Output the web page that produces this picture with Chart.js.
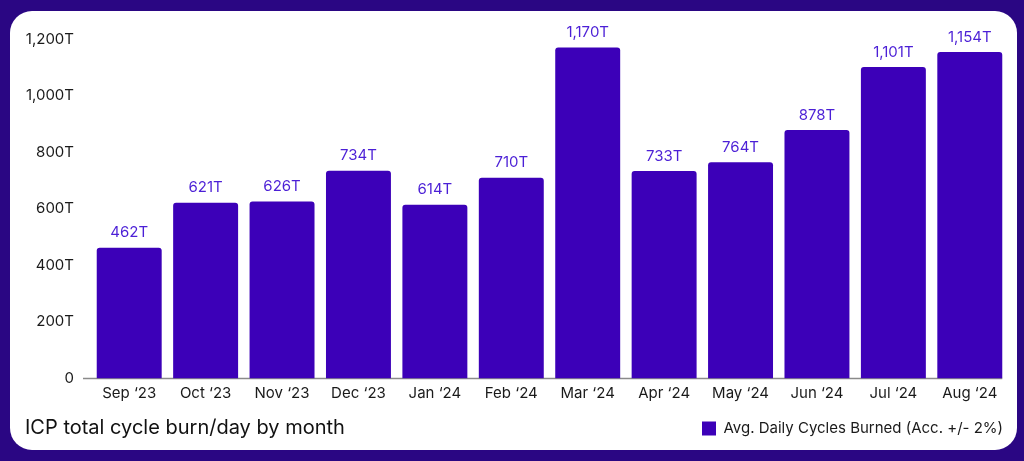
<!DOCTYPE html>
<html>
<head>
<meta charset="utf-8">
<script src="https://cdn.jsdelivr.net/npm/chart.js@4"></script>
<style>
  html, body { margin: 0; padding: 0; }
  body { width: 1024px; height: 461px; background: #2a0683; position: relative; overflow: hidden; font-family: Inter, "Noto Sans", sans-serif; }
  #panel { position: absolute; left: 10px; top: 11px; width: 1007px; height: 439px; background: #fff; border-radius: 22px; }
  #chart-wrap { position: absolute; left: 0; top: 0; width: 1024px; height: 461px; }
  #title { position: absolute; left: 25px; top: 414px; font-size: 20px; color: #111; line-height: 26px; }
</style>
</head>
<body>
<div id="panel"></div>
<div id="chart-wrap"><canvas id="cycles-chart" width="1024" height="461"></canvas></div>
<div id="title">ICP total cycle burn/day by month</div>
<script>
const months = ['Sep ‘23', 'Oct ‘23', 'Nov ‘23', 'Dec ‘23', 'Jan ‘24', 'Feb ‘24', 'Mar ‘24', 'Apr ‘24', 'May ‘24', 'Jun ‘24', 'Jul ‘24', 'Aug ‘24'];
const cyclesBurned = [462, 621, 626, 734, 614, 710, 1170, 733, 764, 878, 1101, 1154];
const seriesName = 'Avg. Daily Cycles Burned (Acc. +/- 2%)';

const barColor = '#3c00b8';
const labelColor = '#4b1fd6';
const textColor = '#1a1a1a';
const fontFamily = 'Inter, "Noto Sans", sans-serif';

const fmt = v => v === 0 ? '0' : v.toLocaleString('en-US') + 'T';

// value labels above each bar
const valueLabels = {
    id: 'valueLabels',
    afterDatasetsDraw(chart) {
        const ctx = chart.ctx;
        const meta = chart.getDatasetMeta(0);
        ctx.save();
        ctx.font = '15px ' + fontFamily;
        ctx.fillStyle = labelColor;
        ctx.textAlign = 'center';
        ctx.textBaseline = 'middle';
        meta.data.forEach((bar, i) => {
            ctx.fillText(fmt(cyclesBurned[i]), bar.x, bar.y - 15);
        });
        ctx.restore();
    }
};

// baseline under the bars
const baseLine = {
    id: 'baseLine',
    beforeDatasetsDraw(chart) {
        const ctx = chart.ctx;
        const meta = chart.getDatasetMeta(0);
        const last = meta.data[meta.data.length - 1];
        const y = chart.scales.y.getPixelForValue(0);
        ctx.save();
        ctx.strokeStyle = '#8a8a8a';
        ctx.lineWidth = 1.5;
        ctx.beginPath();
        ctx.moveTo(chart.chartArea.left - 8, y);
        ctx.lineTo(last.x + last.width / 2, y);
        ctx.stroke();
        ctx.restore();
    }
};

const ctx = document.getElementById('cycles-chart').getContext('2d');
new Chart(ctx, {
    type: 'bar',
    data: {
        labels: months,
        datasets: [{
            label: seriesName,
            data: cyclesBurned,
            backgroundColor: barColor,
            borderRadius: 3,
            borderSkipped: 'bottom',
            categoryPercentage: 1,
            barPercentage: 0.85
        }]
    },
    options: {
        responsive: false,
        animation: false,
        layout: { padding: { top: 39, right: 16, bottom: 15, left: 0 } },
        plugins: {
            legend: {
                position: 'bottom',
                align: 'end',
                labels: {
                    boxWidth: 14,
                    boxHeight: 14,
                    padding: 5,
                    color: textColor,
                    font: { family: fontFamily, size: 15 }
                }
            },
            tooltip: { enabled: false }
        },
        scales: {
            x: {
                grid: { display: false, drawTicks: false },
                border: { display: false },
                ticks: {
                    color: textColor,
                    padding: 6,
                    maxRotation: 0,
                    autoSkip: false,
                    font: { family: fontFamily, size: 15 }
                },
                afterFit(s) { s.height = 37.5; }
            },
            y: {
                min: 0,
                max: 1200,
                grid: { display: false, drawTicks: false },
                border: { display: false },
                ticks: {
                    stepSize: 200,
                    color: textColor,
                    padding: 17,
                    callback: fmt,
                    font: { family: fontFamily, size: 15 }
                },
                afterFit(s) { s.width = 91; }
            }
        }
    },
    plugins: [valueLabels, baseLine]
});
</script>
</body>
</html>
